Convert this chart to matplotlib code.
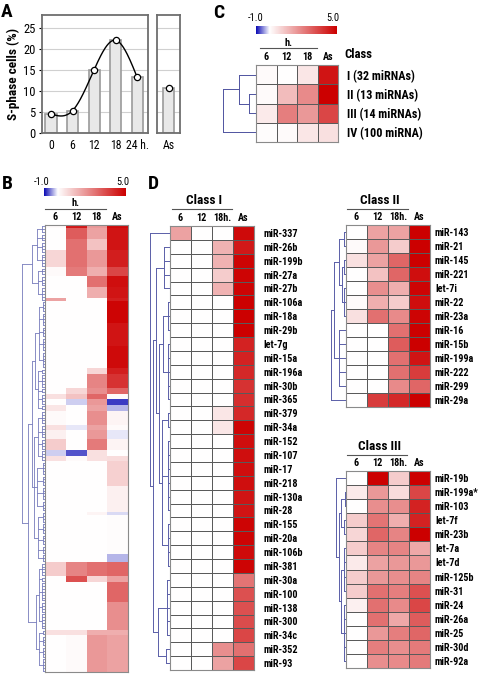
import numpy as np
import matplotlib
matplotlib.use('Agg')
import matplotlib.pyplot as plt
from matplotlib import font_manager
from matplotlib.colors import LinearSegmentedColormap, TwoSlopeNorm

# ---------------- data ----------------
hours = [0, 6, 12, 18, 24]
hour_labels = ['0', '6', '12', '18', '24 h.']
sphase = [4.5, 5.3, 15.0, 22.0, 13.2]
sphase_as = 10.7

cols_c = ['6', '12', '18', 'As']
cols_d = ['6', '12', '18h.', 'As']

class_names = ['I (32 miRNAs)', 'II (13 miRNAs)', 'III (14 miRNAs)', 'IV (100 miRNA)']
class_vals = [[0.1, 0.0, 0.5, 4.6],
              [0.1, 1.3, 2.3, 5.0],
              [0.4, 2.5, 2.0, 3.6],
              [0.05, 0.1, 0.5, 0.6]]
class_tree = (1.0, (0.52, 0, (0.21, 1, 2)), 3)

c1_names = ['miR-337', 'miR-26b', 'miR-199b', 'miR-27a', 'miR-27b', 'miR-106a', 'miR-18a',
            'miR-29b', 'let-7g', 'miR-15a', 'miR-196a', 'miR-30b', 'miR-365', 'miR-379',
            'miR-34a', 'miR-152', 'miR-107', 'miR-17', 'miR-218', 'miR-130a', 'miR-28',
            'miR-155', 'miR-20a', 'miR-106b', 'miR-381', 'miR-30a', 'miR-100', 'miR-138',
            'miR-300', 'miR-34c', 'miR-352', 'miR-93']
c1_vals = [[1.8, 0, 0, 4.8], [0, 0, 1.5, 4.5], [0, 0, 1.5, 4.9], [0, 0, 1.0, 4.9],
           [0, 0, 1.5, 4.9], [0, 0, 0, 5.0], [0, 0, 0, 5.0], [0, 0, 0, 5.0],
           [0, 0, 0, 4.3], [0, 0, 0, 4.3], [0, 0, 0, 4.2], [0, 0, 0, 4.0],
           [0, 0, 0, 4.1], [0, 0, 0.5, 4.2], [0, 0, 0.5, 4.9], [0, 0, 0, 4.7],
           [0, 0, 0, 4.7], [0, 0, 0, 4.7], [0, 0, 0, 4.7], [0, 0, 0, 4.6],
           [0, 0, 0, 4.6], [0, 0, 0, 4.9], [0, 0, 0, 4.9], [0, 0, 0, 4.8],
           [0, 0, 0, 4.9], [0, 0, 0, 2.7], [0, 0, 0, 3.4], [0, 0, 0, 3.4],
           [0, 0, 0, 3.5], [0, 0, 0, 3.6], [0, 0, 2.2, 2.8], [0, 0, 1.8, 3.6]]

c2_names = ['miR-143', 'miR-21', 'miR-145', 'miR-221', 'let-7i', 'miR-22', 'miR-23a',
            'miR-16', 'miR-15b', 'miR-199a', 'miR-222', 'miR-299', 'miR-29a']
c2_vals = [[0, 1.8, 1.8, 5.0], [0.1, 2.0, 1.0, 5.0], [0.6, 1.8, 3.0, 5.0],
           [0, 1.2, 3.0, 4.7], [0, 2.2, 1.6, 4.9], [0.1, 1.6, 1.0, 4.7],
           [0.6, 2.8, 2.3, 4.9], [0, 0, 2.8, 5.0], [0, 0, 3.2, 5.0],
           [0, 0, 2.8, 4.6], [0, 0, 2.8, 3.8], [0, 0, 2.3, 3.0], [0, 3.8, 4.2, 5.0]]

c3_names = ['miR-19b', 'miR-199a*', 'miR-103', 'let-7f', 'miR-23b', 'let-7a', 'let-7d',
            'miR-125b', 'miR-31', 'miR-24', 'miR-26a', 'miR-25', 'miR-30d', 'miR-92a']
c3_vals = [[0, 5.0, 1.0, 5.0], [0.4, 2.0, 0.7, 3.6], [0, 2.2, 2.2, 4.3],
           [1.0, 2.7, 1.6, 4.3], [0.8, 3.0, 2.4, 5.0], [1.0, 2.4, 2.4, 1.7],
           [0.4, 1.8, 2.0, 2.0], [1.0, 2.0, 2.2, 2.4], [1.0, 2.8, 2.5, 3.4],
           [0.3, 2.8, 2.3, 3.6], [0, 2.8, 1.7, 3.2], [0, 2.0, 2.5, 3.0],
           [0, 2.5, 2.2, 2.6], [0, 2.2, 2.3, 2.6]]

# panel B: runs of rows (row count, 6h, 12h, 18h, As), top to bottom
b_blocks = [(1, 0.1, 4.5, 2.0, 4.8), (4, 0.0, 3.2, 1.8, 4.6), (4, 0.0, 2.8, 1.2, 4.6),
            (6, 0.8, 2.8, 2.0, 4.4), (3, 0.1, 2.6, 1.6, 3.6), (4, 0.0, 0.0, 2.8, 4.7),
            (4, 0.0, 0.0, 1.6, 4.6), (1, 1.8, 0.0, 0.0, 4.4), (8, 0.0, 0.0, 0.0, 4.9),
            (8, 0.0, 0.0, 0.0, 4.6), (8, 0.0, 0.0, 0.0, 4.8), (2, 0.0, 0.0, 0.8, 4.4),
            (5, 0.0, 0.0, 2.4, 4.0), (2, 0.0, 0.8, 2.2, 3.0), (2, 0.6, 1.2, 3.0, 0.1),
            (2, 0.0, -0.2, 2.0, -0.8), (2, 0.5, 0.0, 1.8, -0.3), (5, 0.1, 0.0, 2.2, 0.2),
            (2, 0.6, -0.1, 1.8, 0.1), (3, 0.3, 0.0, 2.0, -0.1), (4, 1.0, 0.0, 2.6, 0.2),
            (2, -0.2, -0.7, 0.6, 0.0), (2, 0.6, 0.1, 0.6, 0.7), (9, 0.0, 0.0, 0.0, 0.9),
            (9, 0.0, 0.0, 0.0, 0.3), (1, 0.0, 0.0, 0.2, -0.15), (14, 0.0, 0.0, 0.0, 0.05),
            (3, 0.0, 0.0, 0.0, -0.3), (5, 1.0, 2.4, 2.8, 3.0), (2, 0.0, 3.4, 0.8, 1.8),
            (7, 0.0, 0.0, 0.0, 3.0), (10, 0.0, 0.0, 0.0, 2.2), (2, 0.6, 0.6, 1.6, 1.6),
            (13, 0.0, 0.1, 2.0, 1.8)]


def comb(h, a, b):
    return (h,) + tuple(range(a, b))


def split(h, hl, bounds):
    return (h,) + tuple(comb(hl, a, b) if b - a > 1 else a
                        for a, b in zip(bounds[:-1], bounds[1:]))


c1_tree = (1.0, 0, (0.85, (0.7, comb(0.3, 1, 5),
                            (0.55, (0.35, comb(0.1, 5, 8), comb(0.12, 8, 13)),
                             (0.4, comb(0.1, 13, 15), comb(0.12, 15, 21), comb(0.12, 21, 25)))),
                    (0.6, comb(0.15, 25, 30), comb(0.2, 30, 32))))
c2_tree = (1.0, (0.8, (0.45, comb(0.15, 0, 2), (0.3, comb(0.15, 2, 4), comb(0.15, 4, 7))),
                 comb(0.5, 7, 12)), 12)
c3_tree = (1.0, 0, (0.75, (0.5, comb(0.15, 1, 3), comb(0.2, 3, 5)),
                    (0.55, comb(0.2, 5, 9), comb(0.2, 9, 14))))
b_tree = (1.0,
          (0.57, split(0.35, 0.12, [0, 3, 6, 10, 15]), split(0.3, 0.12, [15, 18, 22, 27])),
          (0.74,
           (0.57, (0.45, split(0.25, 0.1, [27, 31, 36, 40, 45, 51]),
                   split(0.3, 0.12, [51, 53, 58, 60, 64, 66])),
            (0.5, split(0.3, 0.12, [66, 71, 76, 80, 84]),
             split(0.35, 0.1, [84, 89, 93, 98, 102]),
             split(0.3, 0.1, [102, 106, 110, 114, 117, 120]))),
           (0.4, split(0.25, 0.12, [120, 125, 127, 134, 138, 144]),
            split(0.25, 0.1, [144, 146, 150, 154, 159]))))

# ---------------- style ----------------
# the figure uses a narrow bold sans; take a condensed face if one is installed
fonts = font_manager.fontManager.ttflist
pref = ['liberation', 'roboto', 'open', 'noto', 'dejavu', 'lato']


def narrowness(f):
    s = (f.name + ' ' + f.fname).lower()
    if ('narrow' in s or 'condensed' in s or f.stretch in ('condensed', 'semi-condensed')) \
            and 'mono' not in s and 'serif' not in s.replace('sans-serif', '') and 'cjk' not in s:
        for i, p in enumerate(pref):
            if p in s:
                return i
        return len(pref)
    return None


ranked = sorted((narrowness(f), f.name, f.stretch) for f in fonts if narrowness(f) is not None)
if ranked:
    base_font, stretch = ranked[0][1], ranked[0][2]
    fs = 1.0
else:
    base_font, stretch = 'Liberation Sans', 'normal'
    fs = 0.88
plt.rcParams['font.family'] = [base_font, 'DejaVu Sans']
plt.rcParams['font.stretch'] = stretch

cmap = LinearSegmentedColormap.from_list('mev', [(0, '#0a0ab4'), (0.5, '#ffffff'), (1, '#cc0000')])
norm = TwoSlopeNorm(vmin=-1.0, vcenter=0.0, vmax=5.0)

W, H = 480, 674
fig = plt.figure(figsize=(W / 100, H / 100), dpi=100)


def px_axes(x0, y0, x1, y1):
    return fig.add_axes([x0 / W, 1 - y1 / H, (x1 - x0) / W, (y1 - y0) / H])


def draw_tree(ax, node, color, lw):
    if isinstance(node, int):
        return node + 0.5, 0.0
    h = node[0]
    kids = [draw_tree(ax, k, color, lw) for k in node[1:]]
    ys = [k[0] for k in kids]
    for y, kh in kids:
        ax.plot([kh, h], [y, y], color=color, lw=lw, solid_capstyle='butt')
    ax.plot([h, h], [min(ys), max(ys)], color=color, lw=lw)
    return (min(ys) + max(ys)) / 2, h


def dendro(box, tree, n, color='#4f53a0', lw=0.7):
    ax = px_axes(*box)
    draw_tree(ax, tree, color, lw)
    ax.set_xlim(1.02, 0)
    ax.set_ylim(n, 0)
    ax.axis('off')


def heat(box, vals, edges=True, rows=None, cols=None, rowsize=7.3, rowpad=6.5):
    ax = px_axes(*box)
    v = np.asarray(vals, float)
    ax.pcolormesh(v, cmap=cmap, norm=norm,
                  edgecolors='#5a5a5a' if edges else 'none', linewidth=0.6 if edges else 0)
    ax.set_xlim(0, v.shape[1])
    ax.set_ylim(v.shape[0], 0)
    for s in ax.spines.values():
        s.set_color('#8a8a8a')
        s.set_linewidth(0.8)
    ax.xaxis.tick_top()
    ax.yaxis.tick_right()
    if cols:
        ax.set_xticks(np.arange(v.shape[1]) + 0.5, cols, fontsize=7.3 * fs, fontweight='bold')
    else:
        ax.set_xticks([])
    if rows:
        ax.set_yticks(np.arange(v.shape[0]) + 0.5, rows, fontsize=rowsize * fs, fontweight='bold')
    else:
        ax.set_yticks([])
    ax.tick_params(length=0, pad=2)
    ax.tick_params(axis='y', pad=rowpad)
    return ax


def natural_spline(x, y, xs):
    x = np.asarray(x, float)
    y = np.asarray(y, float)
    n = len(x)
    h = np.diff(x)
    A = np.zeros((n, n))
    r = np.zeros(n)
    A[0, 0] = A[-1, -1] = 1
    for i in range(1, n - 1):
        A[i, i - 1], A[i, i], A[i, i + 1] = h[i - 1], 2 * (h[i - 1] + h[i]), h[i]
        r[i] = 6 * ((y[i + 1] - y[i]) / h[i] - (y[i] - y[i - 1]) / h[i - 1])
    M = np.linalg.solve(A, r)
    k = np.clip(np.searchsorted(x, xs) - 1, 0, n - 2)
    hh = x[k + 1] - x[k]
    t0 = x[k + 1] - xs
    t1 = xs - x[k]
    return ((M[k] * t0 ** 3 + M[k + 1] * t1 ** 3) / (6 * hh)
            + (y[k] / hh - M[k] * hh / 6) * t0 + (y[k + 1] / hh - M[k + 1] * hh / 6) * t1)


# ---------------- panel A ----------------
axA = px_axes(42, 15, 148, 133)
axA.bar(hours, sphase, width=3.1, color='#e8e8e8', edgecolor='#9a9a9a', lw=1.2, zorder=2)
xs = np.linspace(hours[0], hours[-1], 200)
axA.plot(xs, natural_spline(hours, sphase, xs), color='black', lw=1.0, zorder=3)
axA.plot(hours, sphase, 'o', ms=4.5, mfc='white', mec='black', mew=0.9, zorder=4)
axA.set_xlim(-2.5, 27)
axA.set_ylim(0, 28)
axA.set_yticks([0, 5, 10, 15, 20, 25])
axA.set_xticks(hours, hour_labels)
axA.set_ylabel('S-phase cells (%)', fontsize=9.5 * fs, fontweight='bold', labelpad=2)

axAs = px_axes(157, 15, 180, 133)
axAs.bar([0], [sphase_as], width=0.95, color='#e8e8e8', edgecolor='#9a9a9a', lw=1.2, zorder=2)
axAs.plot([0], [sphase_as], 'o', ms=4.5, mfc='white', mec='black', mew=0.9, zorder=4)
axAs.set_xlim(-1, 1)
axAs.set_ylim(0, 28)
axAs.set_xticks([0], ['As'])
axAs.set_yticks([5, 10, 15, 20, 25], [])
for ax in (axA, axAs):
    ax.grid(axis='y', color='#d0d0d0', lw=0.8, zorder=0)
    ax.tick_params(axis='both', length=0, labelsize=8.5 * fs, pad=4)
    for s in ax.spines.values():
        s.set_color('#6e6e6e')
        s.set_linewidth(1.3)
axA.tick_params(axis='y', length=2.5, pad=2, labelsize=9 * fs)

# ---------------- panel C ----------------
heat((256, 65, 338, 142), class_vals, rows=class_names, cols=cols_c, rowsize=8.7)
dendro((222, 65, 256, 142), class_tree, len(class_vals))

# ---------------- panel B ----------------
bb = np.array(b_blocks, float)
b_vals = np.repeat(bb[:, 1:], bb[:, 0].astype(int), axis=0)
heat((45, 225, 128, 672), b_vals, edges=False, cols=cols_c)
dendro((22, 225, 45, 672), b_tree, len(b_vals), color='#6a6fb5', lw=0.55)

# ---------------- panel D ----------------
heat((170, 226, 254, 670), c1_vals, rows=c1_names, cols=cols_d, rowpad=6.5)
dendro((150, 226, 170, 670), c1_tree, len(c1_vals), color='#5a5fa8')
heat((346, 225, 430, 407), c2_vals, rows=c2_names, cols=cols_d, rowpad=3.6)
dendro((331, 225, 346, 407), c2_tree, len(c2_vals), color='#5a5fa8')
heat((346, 471, 430, 668), c3_vals, rows=c3_names, cols=cols_d, rowpad=3.6)
dendro((336, 471, 346, 668), c3_tree, len(c3_vals), color='#5a5fa8')

# colour bars
grad = np.linspace(-1, 5, 256)[None, :]
for box in [(256, 26, 337, 34), (44, 188, 125, 196)]:
    cb = px_axes(*box)
    cb.imshow(grad, aspect='auto', cmap=cmap, norm=norm)
    cb.axis('off')

# ---------------- overlay text ----------------
ov = fig.add_axes([0, 0, 1, 1])
ov.set_xlim(0, W)
ov.set_ylim(H, 0)
ov.axis('off')
for lab, x, y in [('A', 1, 12), ('C', 213, 13), ('B', 2, 184), ('D', 148, 184)]:
    ov.text(x, y, lab, fontsize=14, fontweight='bold', ha='left', va='center')
for x, y, t in [(256, 18, '-1.0'), (333, 18, '5.0'), (42, 182, '-1.0'), (123, 182, '5.0')]:
    ov.text(x, y, t, fontsize=7.5 * fs, ha='center', va='center')
for x0, x1, y, ty in [(260, 317, 48, 43), (45, 106, 209, 203)]:
    ov.plot([x0, x1], [y, y], color='#555555', lw=0.8)
    ov.text((x0 + x1) / 2, ty, 'h.', fontsize=7.5 * fs, fontweight='bold', ha='center', va='center')
ov.text(344, 55, 'Class', fontsize=9.2 * fs, fontweight='bold', ha='left', va='center')
for x0, x1, y, t in [(172, 232, 209, 'Class I'), (347, 408, 209, 'Class II'),
                     (347, 407, 455, 'Class III')]:
    ov.plot([x0, x1], [y, y], color='#555555', lw=0.8)
    ov.text((x0 + x1) / 2 + 2, y - 9, t, fontsize=9.5 * fs, fontweight='bold', ha='center', va='center')

fig.savefig('out.png', dpi=100)
